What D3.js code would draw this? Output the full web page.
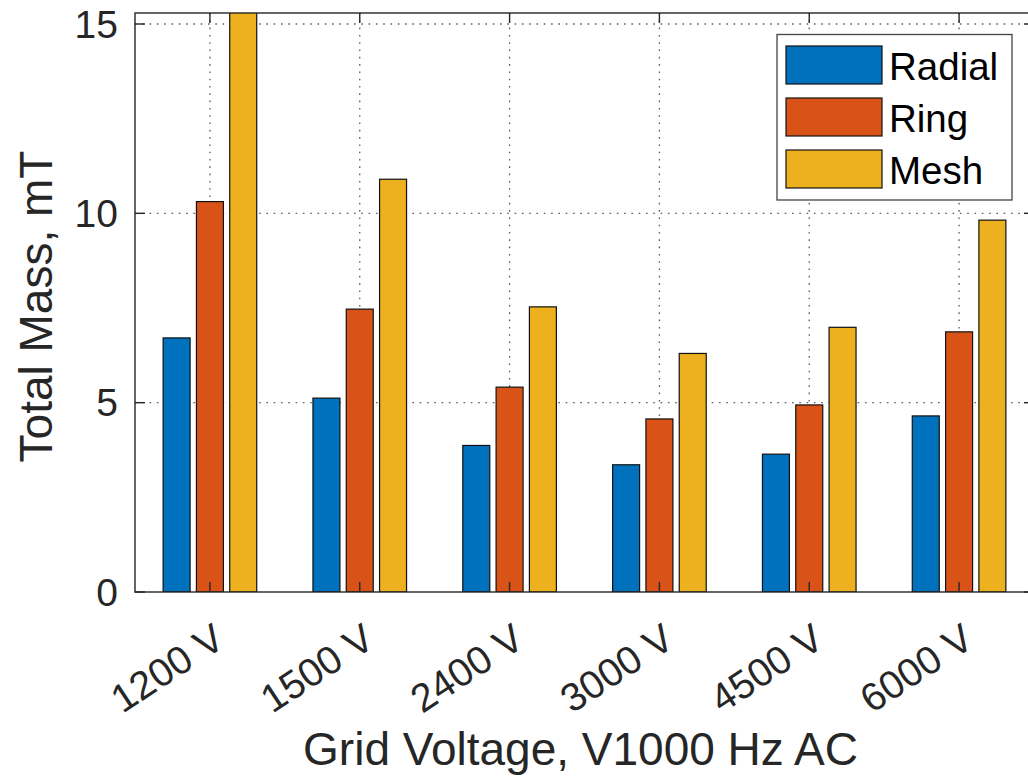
<!DOCTYPE html>
<html>
<head>
<meta charset="utf-8">
<script src="https://cdn.jsdelivr.net/npm/d3@7"></script>
<style>
	html, body { margin: 0; padding: 0; background: #fff; }
	svg { display: block; font-family: 'Liberation Sans', Arial, Helvetica, sans-serif; }
</style>
</head>
<body>
<svg id="chart" width="1028" height="783"></svg>
<script>
const categories = ['1200 V', '1500 V', '2400 V', '3000 V', '4500 V', '6000 V']
const seriesNames = ['Radial', 'Ring', 'Mesh']
const radial = [6.71, 5.12, 3.87, 3.36, 3.64, 4.65]
const ring = [10.31, 7.47, 5.41, 4.57, 4.94, 6.87]
const mesh = [15.6, 10.9, 7.53, 6.3, 6.99, 9.82]
const yTicks = [0, 5, 10, 15]
const colors = ['#0072BD', '#D95319', '#EDB120']

const seriesValues = [radial, ring, mesh]

const plot = { left: 135, right: 1034, top: 13, bottom: 592 }
const textColor = '#262626'
const tickLen = 10

const svg = d3.select('#chart')

// y: 15 sits at 24px, the top edge cuts just above it
const yMax = (plot.bottom - plot.top) / ((plot.bottom - 24) / 15)
const y = d3.scaleLinear().domain([0, yMax]).range([plot.bottom, plot.top])

const x = d3
	.scaleBand()
	.domain(categories)
	.range([plot.left, plot.right])
	.paddingInner(0)
	.paddingOuter(0)

const xSub = d3
	.scaleBand()
	.domain(seriesNames)
	.range([-46.8, 46.8])
	.paddingInner(0.19)

const center = c => x(c) + x.bandwidth() / 2

svg
	.append('defs')
	.append('clipPath')
	.attr('id', 'plot-clip')
	.append('rect')
	.attr('x', plot.left)
	.attr('y', plot.top)
	.attr('width', plot.right - plot.left)
	.attr('height', plot.bottom - plot.top)

// grid (dotted, behind the bars)
const grid = svg.append('g').attr('class', 'grid')
const gridStyle = sel =>
	sel
		.attr('stroke', '#262626')
		.attr('stroke-opacity', 0.75)
		.attr('stroke-width', 1.3)
		.attr('stroke-dasharray', '1.6 5.7')

grid
	.selectAll('line.h')
	.data(yTicks.filter(t => t > 0))
	.join('line')
	.attr('class', 'h')
	.attr('x1', plot.left)
	.attr('x2', plot.right)
	.attr('y1', d => y(d))
	.attr('y2', d => y(d))
	.call(gridStyle)

grid
	.selectAll('line.v')
	.data(categories)
	.join('line')
	.attr('class', 'v')
	.attr('x1', d => center(d))
	.attr('x2', d => center(d))
	.attr('y1', plot.top)
	.attr('y2', plot.bottom)
	.call(gridStyle)

// bars
const bars = svg.append('g').attr('clip-path', 'url(#plot-clip)')
seriesNames.forEach((name, i) => {
	bars
		.append('g')
		.attr('class', 'series')
		.selectAll('rect')
		.data(seriesValues[i].map((v, j) => ({ cat: categories[j], v })))
		.join('rect')
		.attr('x', d => center(d.cat) + xSub(name))
		.attr('width', xSub.bandwidth())
		.attr('y', d => y(d.v))
		.attr('height', d => y(0) - y(d.v))
		.attr('fill', colors[i])
		.attr('stroke', '#111')
		.attr('stroke-width', 1.2)
})

// box + ticks on all sides
const axes = svg.append('g').attr('class', 'axes')
axes
	.append('rect')
	.attr('x', plot.left)
	.attr('y', plot.top)
	.attr('width', plot.right - plot.left)
	.attr('height', plot.bottom - plot.top)
	.attr('fill', 'none')
	.attr('stroke', textColor)
	.attr('stroke-width', 1.4)

yTicks.forEach(t => {
	axes
		.append('line')
		.attr('x1', plot.left)
		.attr('x2', plot.left + tickLen)
		.attr('y1', y(t))
		.attr('y2', y(t))
		.attr('stroke', textColor)
		.attr('stroke-width', 1.4)
	axes
		.append('line')
		.attr('x1', plot.right)
		.attr('x2', plot.right - tickLen)
		.attr('y1', y(t))
		.attr('y2', y(t))
		.attr('stroke', textColor)
		.attr('stroke-width', 1.4)
})

categories.forEach(c => {
	axes
		.append('line')
		.attr('x1', center(c))
		.attr('x2', center(c))
		.attr('y1', plot.bottom)
		.attr('y2', plot.bottom - tickLen)
		.attr('stroke', textColor)
		.attr('stroke-width', 1.4)
	axes
		.append('line')
		.attr('x1', center(c))
		.attr('x2', center(c))
		.attr('y1', plot.top)
		.attr('y2', plot.top + tickLen)
		.attr('stroke', textColor)
		.attr('stroke-width', 1.4)
})

// tick labels
svg
	.append('g')
	.selectAll('text')
	.data(yTicks)
	.join('text')
	.attr('x', 118)
	.attr('y', d => y(d))
	.attr('dy', '0.35em')
	.attr('text-anchor', 'end')
	.attr('font-size', 39)
	.attr('fill', textColor)
	.text(d => d)

svg
	.append('g')
	.selectAll('text')
	.data(categories)
	.join('text')
	.attr('transform', d => `translate(${center(d) + 17},645) rotate(-33.5)`)
	.attr('text-anchor', 'end')
	.attr('font-size', 39.5)
	.attr('fill', textColor)
	.text(d => d)

// axis titles
svg
	.append('text')
	.attr('transform', `translate(52,${(plot.top + plot.bottom) / 2 + 4}) rotate(-90)`)
	.attr('text-anchor', 'middle')
	.attr('font-size', 46)
	.attr('fill', textColor)
	.text('Total Mass, mT')

svg
	.append('text')
	.attr('x', (plot.left + plot.right) / 2 - 4)
	.attr('y', 765)
	.attr('text-anchor', 'middle')
	.attr('font-size', 46)
	.attr('fill', textColor)
	.text('Grid Voltage, V1000 Hz AC')

// legend
const legend = svg.append('g').attr('class', 'legend')
legend
	.append('rect')
	.attr('x', 777)
	.attr('y', 34.5)
	.attr('width', 235)
	.attr('height', 165.5)
	.attr('fill', '#fff')
	.attr('stroke', '#444')
	.attr('stroke-width', 1.3)

const rowY = d3.scalePoint().domain(seriesNames).range([65, 169])
seriesNames.forEach((name, i) => {
	legend
		.append('rect')
		.attr('x', 786)
		.attr('y', rowY(name) - 19)
		.attr('width', 96)
		.attr('height', 38)
		.attr('fill', colors[i])
		.attr('stroke', '#111')
		.attr('stroke-width', 1.2)
	legend
		.append('text')
		.attr('x', 889)
		.attr('y', rowY(name) + 2)
		.attr('dy', '0.35em')
		.attr('font-size', 38.5)
		.attr('fill', '#000')
		.text(name)
})
</script>
</body>
</html>
